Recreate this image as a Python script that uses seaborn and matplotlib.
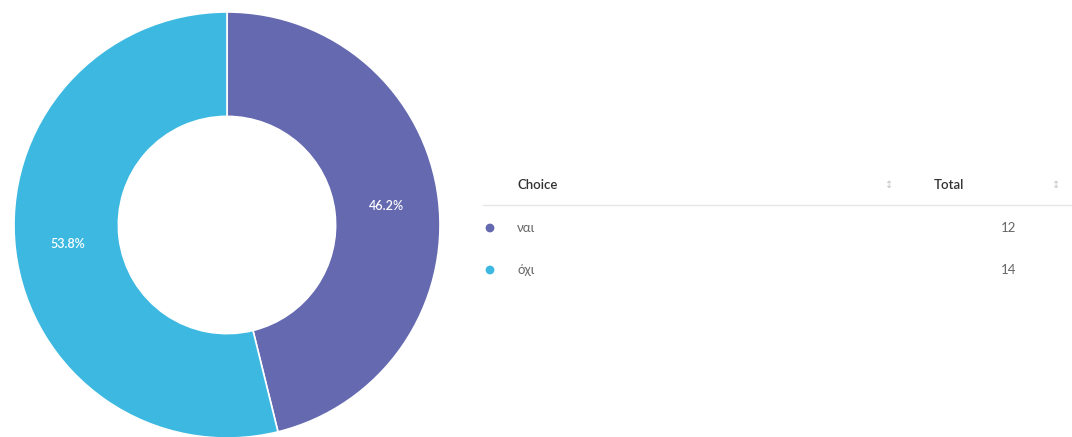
import matplotlib
matplotlib.use("Agg")
import matplotlib.pyplot as plt
import seaborn as sns

# ---- data ----
choices = ["ναι", "όχι"]
totals = [12, 14]
colors = ["#6469B0", "#3DB9E1"]
header_choice = "Choice"
header_total = "Total"

sns.set_theme(style="white")
plt.rcParams['font.family'] = ['Lato', 'DejaVu Sans']

W, H = 1072, 437
fig = plt.figure(figsize=(W / 100, H / 100), dpi=100)

# ---- donut ----
cx, cy, R = 227, 225, 213
ax = fig.add_axes([(cx - R) / W, (H - cy - R) / H, 2 * R / W, 2 * R / H])
wedges, texts, autotexts = ax.pie(
    totals, colors=colors, startangle=90, counterclock=False, radius=1,
    autopct=lambda p: f"{p:.1f}%", pctdistance=0.755,
    wedgeprops=dict(width=0.49, edgecolor="white", linewidth=1.2),
    textprops=dict(color="white", fontsize=9, fontweight="semibold"),
)
ax.set_xlim(-1, 1)
ax.set_ylim(-1, 1)
ax.set_axis_off()

# ---- table ----
tx = fig.add_axes([0, 0, 1, 1])
tx.set_xlim(0, W)
tx.set_ylim(H, 0)
tx.set_axis_off()

tx.text(517, 185, header_choice, fontsize=9.5, color="#333333", va="center", ha="left", fontweight="semibold")
tx.text(934, 185, header_total, fontsize=9.5, color="#333333", va="center", ha="left", fontweight="semibold")
for sx in (889, 1056):
    tx.text(sx, 185, "\u2195", fontsize=7, color="#c4c4c4", va="center", ha="center",
            family=["DejaVu Sans"])
tx.plot([483, 1072], [205, 205], color="#e6e6e6", linewidth=1)

row_y = [228, 270]
for name, val, col, y in zip(choices, totals, colors, row_y):
    tx.scatter([490], [y], s=40, color=col, edgecolors="none")
    tx.text(517, y, name, fontsize=9.5, color="#666666", va="center", ha="left")
    tx.text(1016, y, str(val), fontsize=9.5, color="#666666", va="center", ha="right")

fig.savefig("out.png", dpi=100, facecolor="white")
